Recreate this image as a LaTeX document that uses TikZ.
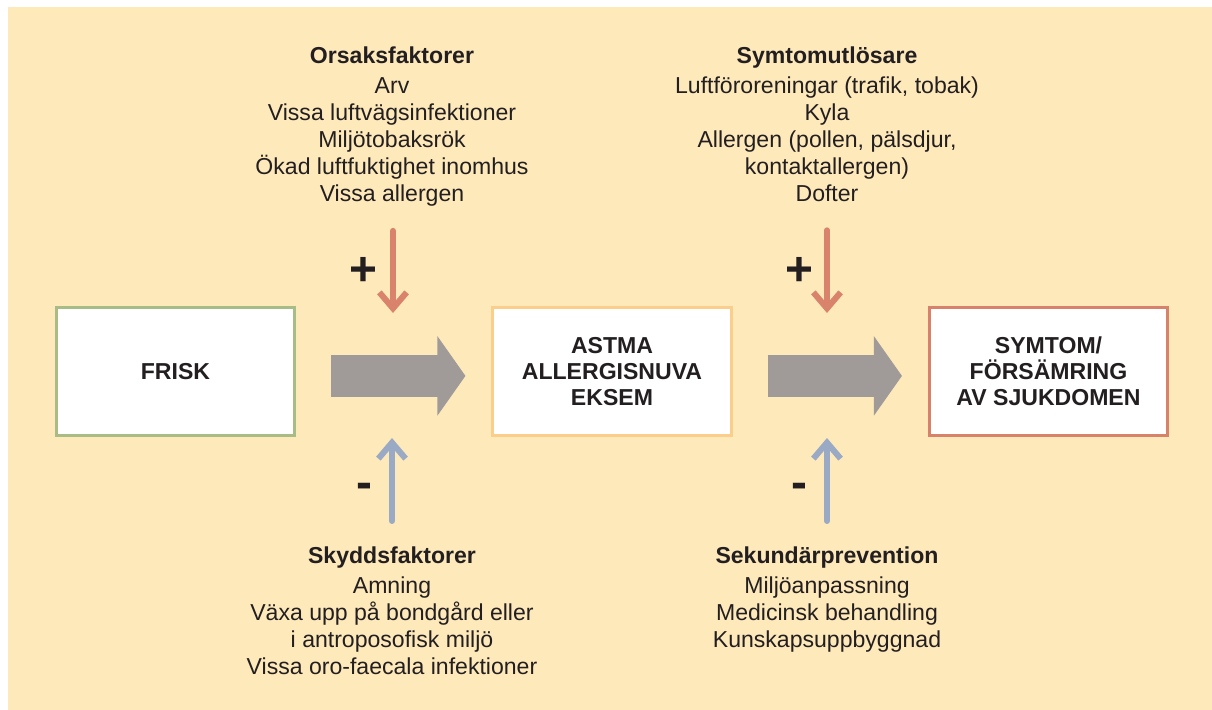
\documentclass[tikz,border=0pt]{standalone}
\usepackage{fontspec}
\setmainfont{Liberation Sans}
\usetikzlibrary{arrows.meta,positioning}

\definecolor{bgyellow}{RGB}{254,233,187}
\definecolor{boxgreen}{RGB}{168,188,134}
\definecolor{boxorange}{RGB}{252,206,140}
\definecolor{boxred}{RGB}{216,130,108}
\definecolor{arrowgray}{RGB}{160,155,152}
\definecolor{arrowred}{RGB}{217,130,108}
\definecolor{arrowblue}{RGB}{155,170,196}
\definecolor{txtblack}{RGB}{35,31,32}

\newcommand{\listfont}{\fontsize{16.4pt}{19.2pt}\selectfont}
\newcommand{\boxfont}{\fontsize{16.4pt}{18.6pt}\selectfont\bfseries}

\tikzset{
  statebox/.style={draw=#1, fill=white, line width=0.075cm, minimum width=5.95cm,
    minimum height=3.2cm, align=center, font=\boxfont, text=txtblack},
  factors/.style={align=center, inner sep=0pt, anchor=north, font=\listfont, text=txtblack},
  bigarrow/.style={arrowgray, line width=1.05cm, -{Triangle[length=0.7cm,width=1.95cm]}},
  smallarrow/.style={#1, line width=0.15cm, line cap=round,
    -{Straight Barb[length=0.4cm,width=0.68cm]}},
  sign/.style={inner sep=0pt, text=txtblack, font=\fontsize{34pt}{34pt}\selectfont\bfseries}
}

\begin{document}
\begin{tikzpicture}[x=0.025cm, y=-0.025cm]
  \useasboundingbox (0,0) rectangle (1212,710);
  \fill[bgyellow] (8,7) rectangle (1212,710);

  % the three states
  \node[statebox=boxgreen]  (frisk)  at (175.5,371.5) {FRISK};
  \node[statebox=boxorange] (astma)  at (612,371.5)   {ASTMA\\ALLERGISNUVA\\EKSEM};
  \node[statebox=boxred]    (symtom) at (1048.5,371.5) {SYMTOM/\\FÖRSÄMRING\\AV SJUKDOMEN};

  \draw[bigarrow] ([xshift=0.88cm,yshift=-0.11cm]frisk.east) -- ([xshift=-0.65cm,yshift=-0.11cm]astma.west);
  \draw[bigarrow] ([xshift=0.88cm,yshift=-0.11cm]astma.east) -- ([xshift=-0.65cm,yshift=-0.11cm]symtom.west);

  % factors above and below
  \node[factors] (orsak) at (392,47) {\textbf{Orsaksfaktorer}\\[2pt]Arv\\Vissa luftvägsinfektioner\\
    Miljötobaksrök\\Ökad luftfuktighet inomhus\\Vissa allergen};
  \node[factors] (utlos) at (827,47) {\textbf{Symtomutlösare}\\[2pt]Luftföroreningar (trafik, tobak)\\Kyla\\
    Allergen (pollen, pälsdjur,\\kontaktallergen)\\Dofter};
  \node[factors] (skydd) at (392,547) {\textbf{Skyddsfaktorer}\\[2pt]Amning\\Växa upp på bondgård eller\\
    i antroposofisk miljö\\Vissa oro-faecala infektioner};
  \node[factors] (sekund) at (827,547) {\textbf{Sekundärprevention}\\[2pt]Miljöanpassning\\
    Medicinsk behandling\\Kunskapsuppbyggnad};

  \coordinate (inA)  at (393,313);
  \coordinate (inB)  at (827,313);
  \coordinate (outA) at (392,438);
  \coordinate (outB) at (827,438);

  \draw[smallarrow=arrowred, shorten <=0.6cm] (orsak.south -| inA) -- (inA);
  \draw[smallarrow=arrowred, shorten <=0.7cm] (utlos.south -| inB) -- (inB);
  \draw[smallarrow=arrowblue, shorten <=0.65cm] (skydd.north -| outA) -- (outA);
  \draw[smallarrow=arrowblue, shorten <=0.65cm] (sekund.north -| outB) -- (outB);

  \node[sign] (plusA)  at (363,271) {+};
  \node[sign] (plusB)  at (799,271) {+};
  \node[sign] (minusA) at (364,491) {-};
  \node[sign] (minusB) at (799,491) {-};
\end{tikzpicture}
\end{document}
